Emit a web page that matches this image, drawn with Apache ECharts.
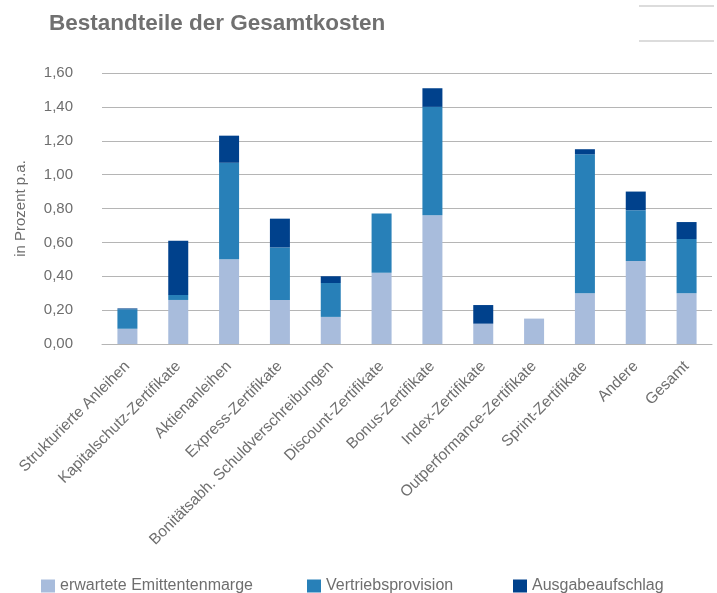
<!DOCTYPE html>
<html>
<head>
<meta charset="utf-8">
<script src="https://cdn.jsdelivr.net/npm/echarts@6/dist/echarts.min.js"></script>
<style>
html,body{margin:0;padding:0;background:#fff;}
#c{width:717px;height:593px;}
</style>
</head>
<body>
<div id="c"></div>
<script>
const categories = ["Strukturierte Anleihen","Kapitalschutz-Zertifikate","Aktienanleihen","Express-Zertifikate","Bonitätsabh. Schuldverschreibungen","Discount-Zertifikate","Bonus-Zertifikate","Index-Zertifikate","Outperformance-Zertifikate","Sprint-Zertifikate","Andere","Gesamt"];
const emittentenmarge = [0.09,0.26,0.50,0.26,0.16,0.42,0.76,0.12,0.15,0.30,0.49,0.30];
const vertriebsprovision = [0.115,0.03,0.57,0.31,0.20,0.35,0.64,0,0,0.82,0.30,0.32];
const ausgabeaufschlag = [0.005,0.32,0.16,0.17,0.04,0,0.11,0.11,0,0.03,0.11,0.10];
const seriesNames = ["erwartete Emittentenmarge","Vertriebsprovision","Ausgabeaufschlag"];
const colors = ["#A8BCDC","#2880B8","#00418C"];

const font = "'Liberation Sans', Arial, sans-serif";
const txt = "#6e6e6e";
const chart = echarts.init(document.getElementById('c'), null, {renderer:'canvas'});

function legend(i, left){
  return {
    data:[seriesNames[i]], left:left, top:573, itemWidth:14, itemHeight:13,
    icon:'rect', textStyle:{fontFamily:font,fontSize:16,color:txt}, selectedMode:false
  };
}

chart.setOption({
  animation:false,
  color: colors,
  title:{text:"Bestandteile der Gesamtkosten", left:44, top:7,
    textStyle:{fontFamily:font,fontSize:22.5,fontWeight:'bold',color:'#707070'}},
  graphic:[
    {type:'line', shape:{x1:639,y1:6,x2:714,y2:6}, style:{stroke:'#dcdcdc',lineWidth:2}},
    {type:'line', shape:{x1:639,y1:41,x2:714,y2:41}, style:{stroke:'#dcdcdc',lineWidth:2}}
  ],
  legend:[legend(0,36),legend(1,302),legend(2,508)],
  grid:{left:102,right:5,top:73,bottom:249,containLabel:false},
  xAxis:{type:'category', data:categories,
    axisLine:{lineStyle:{color:'#b5b5b5',width:1}}, axisTick:{show:false},
    axisLabel:{rotate:45, interval:0, margin:20, fontFamily:font, fontSize:15.5, color:txt}},
  yAxis:{type:'value', min:0, max:1.6, interval:0.2,
    name:"in Prozent p.a.", nameLocation:'middle', nameGap:74, nameRotate:90,
    nameTextStyle:{fontFamily:font,fontSize:15,color:txt},
    axisLine:{show:false}, axisTick:{show:false},
    splitLine:{lineStyle:{color:'#b5b5b5',width:1}},
    axisLabel:{margin:29, fontFamily:font, fontSize:15, color:txt,
      formatter:v=>v.toFixed(2).replace('.',',')}},
  series:[
    {name:seriesNames[0], type:'bar', stack:'a', barWidth:20, data:emittentenmarge},
    {name:seriesNames[1], type:'bar', stack:'a', barWidth:20, data:vertriebsprovision},
    {name:seriesNames[2], type:'bar', stack:'a', barWidth:20, data:ausgabeaufschlag}
  ]
});
</script>
</body>
</html>
